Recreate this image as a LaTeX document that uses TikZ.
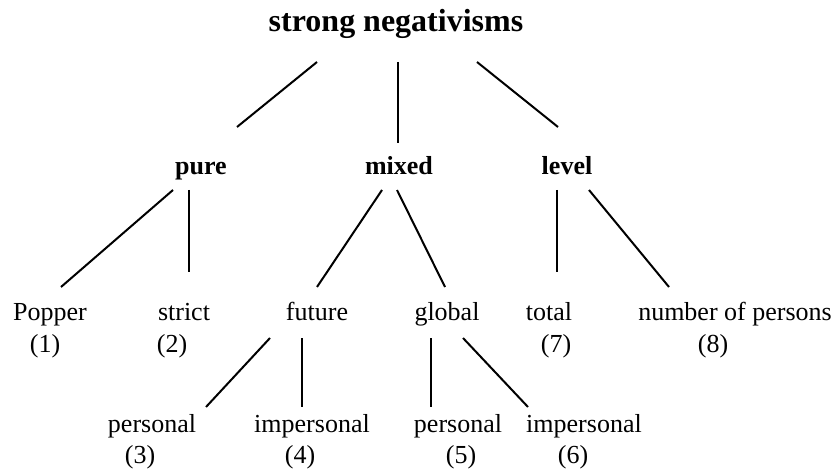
\documentclass[tikz,border=0pt]{standalone}
\usepackage{fontspec}
\setmainfont{Liberation Serif}
\begin{document}
\begin{tikzpicture}[x=1pt,y=-1pt,
  lbl/.style={anchor=base,inner sep=0pt,font=\fontsize{26}{30}\selectfont},
  blbl/.style={anchor=base,inner sep=0pt,font=\fontsize{26}{30}\selectfont\bfseries},
  ttl/.style={anchor=base,inner sep=0pt,font=\fontsize{32}{36}\selectfont\bfseries},
  edge/.style={line width=2pt}]
\useasboundingbox (0,0) rectangle (837,470);
% texts
\node[ttl] (root) at (396,32) {strong negativisms};
\node[blbl] (pure) at (201,175) {pure};
\node[blbl] (mixed) at (399,175) {mixed};
\node[blbl] (level) at (567,175) {level};
\node[lbl] (popper) at (50,320) {Popper};
\node[lbl] (n1) at (45,352) {(1)};
\node[lbl] (strict) at (184,320) {strict};
\node[lbl] (n2) at (172,352) {(2)};
\node[lbl] (future) at (317,320) {future};
\node[lbl] (global) at (447,320) {global};
\node[lbl] (total) at (549,320) {total};
\node[lbl] (n7) at (556,352) {(7)};
\node[lbl] (number) at (735,320) {number of persons};
\node[lbl] (n8) at (713,352) {(8)};
\node[lbl] (pers1) at (152,432) {personal};
\node[lbl] (n3) at (140,463) {(3)};
\node[lbl] (impers1) at (312,432) {impersonal};
\node[lbl] (n4) at (300,463) {(4)};
\node[lbl] (pers2) at (458,432) {personal};
\node[lbl] (n5) at (461,463) {(5)};
\node[lbl] (impers2) at (584,432) {impersonal};
\node[lbl] (n6) at (573,463) {(6)};
% connector end points
\coordinate (r1) at (317,62);  \coordinate (p0) at (237,127);
\coordinate (r2) at (398,62);  \coordinate (m0) at (398,143);
\coordinate (r3) at (477,62);  \coordinate (l0) at (558,127);
\coordinate (pa) at (173,190); \coordinate (popt) at (61,287);
\coordinate (pb) at (189,190); \coordinate (strt) at (189,272);
\coordinate (ma) at (382,190); \coordinate (futt) at (317,287);
\coordinate (mb) at (397,190); \coordinate (glot) at (445,287);
\coordinate (la) at (557,190); \coordinate (tott) at (557,272);
\coordinate (lb) at (589,190); \coordinate (numt) at (669,287);
\coordinate (fa) at (270,338); \coordinate (p1t) at (206,407);
\coordinate (fb) at (302,338); \coordinate (i1t) at (302,407);
\coordinate (ga) at (431,338); \coordinate (p2t) at (431,407);
\coordinate (gb) at (463,338); \coordinate (i2t) at (528,407);
% connectors
\draw[edge] (r1) -- (p0);
\draw[edge] (r2) -- (m0);
\draw[edge] (r3) -- (l0);
\draw[edge] (pa) -- (popt);
\draw[edge] (pb) -- (strt);
\draw[edge] (ma) -- (futt);
\draw[edge] (mb) -- (glot);
\draw[edge] (la) -- (tott);
\draw[edge] (lb) -- (numt);
\draw[edge] (fa) -- (p1t);
\draw[edge] (fb) -- (i1t);
\draw[edge] (ga) -- (p2t);
\draw[edge] (gb) -- (i2t);
\end{tikzpicture}
\end{document}
